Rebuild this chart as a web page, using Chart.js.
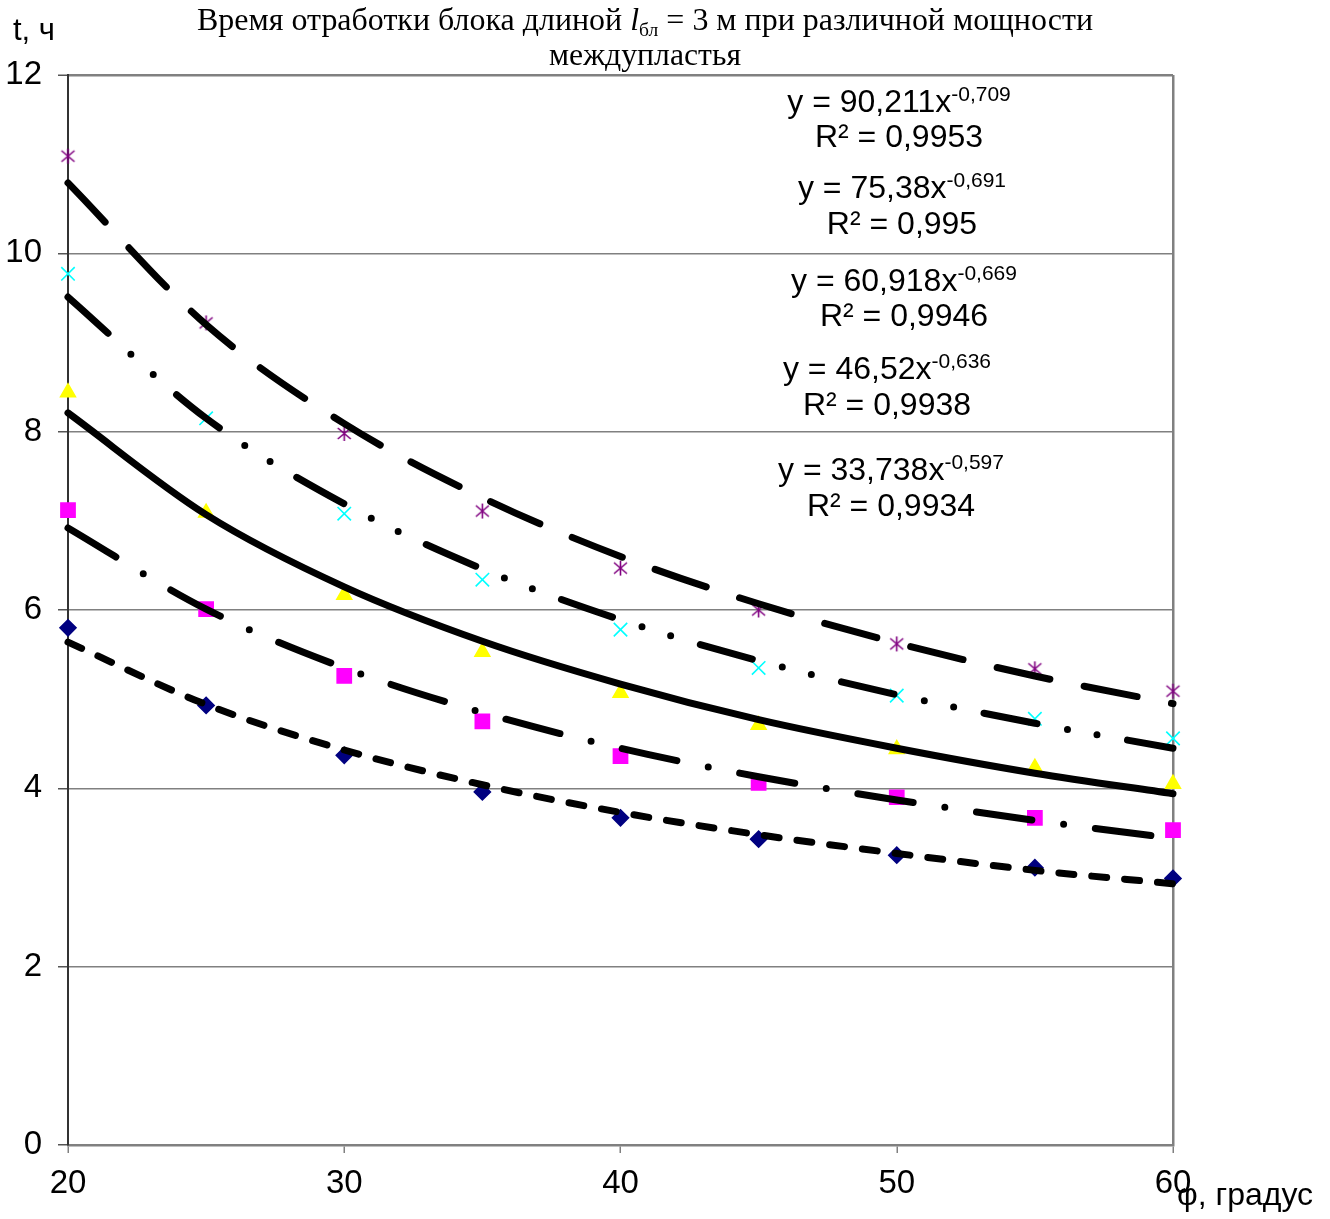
<!DOCTYPE html>
<html>
<head>
<meta charset="utf-8">
<script src="https://cdn.jsdelivr.net/npm/chart.js@4.4.1/dist/chart.umd.min.js"></script>
<style>
  html, body { margin: 0; padding: 0; background: #fff; }
</style>
</head>
<body>
<canvas id="timeChart" width="1330" height="1219"></canvas>
<script>
// angle, degrees
const angles = [20, 25, 30, 35, 40, 45, 50, 55, 60];
const xTicks = [20, 30, 40, 50, 60];
const yTicks = [0, 2, 4, 6, 8, 10, 12];

// measured times, h (one series per seam thickness)
const timeAsterisk = [11.09, 9.22, 7.98, 7.11, 6.47, 6.00, 5.62, 5.34, 5.09];
const timeCross    = [9.77, 8.15, 7.08, 6.34, 5.78, 5.35, 5.04, 4.78, 4.56];
const timeTriangle = [8.44, 7.09, 6.17, 5.53, 5.07, 4.71, 4.44, 4.23, 4.05];
const timeSquare   = [7.12, 6.01, 5.26, 4.75, 4.36, 4.06, 3.90, 3.67, 3.53];
const timeDiamond  = [5.80, 4.93, 4.37, 3.96, 3.67, 3.43, 3.25, 3.11, 2.99];

// power trend lines, values read at the same angles
const trendAsterisk = [10.79, 9.20, 8.09, 7.26, 6.60, 6.07, 5.63, 5.26, 4.95];
const trendCross    = [9.51, 8.15, 7.19, 6.46, 5.89, 5.43, 5.05, 4.73, 4.45];
const trendTriangle = [8.21, 7.07, 6.26, 5.65, 5.17, 4.77, 4.45, 4.17, 3.94];
const trendSquare   = [6.92, 6.01, 5.35, 4.85, 4.45, 4.13, 3.87, 3.64, 3.44];
const trendDiamond  = [5.64, 4.94, 4.43, 4.04, 3.73, 3.48, 3.27, 3.08, 2.93];

// trend equations
const eqMain = ['y = 90,211x', 'y = 75,38x', 'y = 60,918x', 'y = 46,52x', 'y = 33,738x'];
const eqPower = ['-0,709', '-0,691', '-0,669', '-0,636', '-0,597'];
const eqR2 = ['R² = 0,9953', 'R² = 0,995', 'R² = 0,9946', 'R² = 0,9938', 'R² = 0,9934'];

const SANS = '"Liberation Sans", Arial, sans-serif';
const SERIF = '"Liberation Serif", "Times New Roman", serif';

function pts(ys) {
    return angles.map((a, i) => ({ x: a, y: ys[i] }));
}

// excel-like asterisk marker
const asteriskMark = (() => {
    const c = document.createElement('canvas');
    c.width = 17; c.height = 17;
    const g = c.getContext('2d');
    g.strokeStyle = '#800080';
    g.lineWidth = 1.6;
    g.beginPath();
    g.moveTo(8.5, 1); g.lineTo(8.5, 16);
    g.moveTo(2, 3); g.lineTo(15, 14);
    g.moveTo(15, 3); g.lineTo(2, 14);
    g.stroke();
    return c;
})();

function trend(data, dash) {
    return {
        data: pts(data),
        showLine: true,
        borderColor: '#000',
        borderWidth: 7,
        borderDash: dash,
        borderCapStyle: 'round',
        borderJoinStyle: 'round',
        cubicInterpolationMode: 'monotone',
        pointRadius: 0,
        fill: false,
        clip: false,
        order: 0
    };
}

function marks(data, style, color, radius) {
    return {
        data: pts(data),
        showLine: false,
        pointStyle: style,
        pointRadius: radius,
        pointBackgroundColor: color,
        pointBorderColor: color,
        pointBorderWidth: 1.6,
        clip: false,
        order: 1
    };
}

// draws a run of text pieces centred on cx
function drawRuns(ctx, runs, cx, base, fitWidth) {
    let total = 0;
    runs.forEach(r => { ctx.font = r.font; r.w = ctx.measureText(r.text).width; total += r.w; });
    const k = fitWidth ? fitWidth / total : 1;
    ctx.save();
    ctx.translate(cx - total * k / 2, base);
    ctx.scale(k, 1);
    let x = 0;
    runs.forEach(r => {
        ctx.font = r.font;
        ctx.fillText(r.text, x, -(r.rise || 0));
        x += r.w;
    });
    ctx.restore();
}

const textPlugin = {
    id: 'chartText',
    afterDraw(chart) {
        const ctx = chart.ctx;
        ctx.save();
        ctx.fillStyle = '#000';
        ctx.textBaseline = 'alphabetic';
        ctx.textAlign = 'left';

        // title
        const tf = '31px ' + SERIF;
        drawRuns(ctx, [
            { text: 'Время отработки блока длиной ', font: tf },
            { text: 'l', font: 'italic ' + tf },
            { text: 'бл', font: '19px ' + SERIF, rise: -6 },
            { text: ' = 3 м при различной мощности', font: tf }
        ], 645, 30, 896);
        drawRuns(ctx, [{ text: 'междупластья', font: tf }], 645, 65, 192);

        // axis names
        ctx.font = '31px ' + SANS;
        ctx.fillText('t, ч', 13, 40);
        ctx.font = '32px ' + SANS;
        ctx.fillText('φ, градус', 1177, 1205);

        // equations
        const spots = [
            { cx: 899, b1: 112, b2: 147 },
            { cx: 902, b1: 198, b2: 234 },
            { cx: 904, b1: 291, b2: 326 },
            { cx: 887, b1: 379, b2: 415 },
            { cx: 891, b1: 480, b2: 516 }
        ];
        const ef = '32px ' + SANS;
        spots.forEach((s, i) => {
            drawRuns(ctx, [
                { text: eqMain[i], font: ef },
                { text: eqPower[i], font: '21px ' + SANS, rise: 11 }
            ], s.cx, s.b1);
            drawRuns(ctx, [{ text: eqR2[i], font: ef }], s.cx, s.b2);
        });
        ctx.restore();
    }
};

const canvas = document.getElementById('timeChart');
new Chart(canvas.getContext('2d'), {
    type: 'scatter',
    data: {
        datasets: [
            trend(trendAsterisk, [54, 35]),
            trend(trendCross, [54, 31, 0, 30, 0, 31]),
            trend(trendTriangle, []),
            trend(trendSquare, [56, 32, 0, 32]),
            trend(trendDiamond, [15, 18]),
            marks(timeAsterisk, asteriskMark, '#800080', 8),
            marks(timeCross, 'crossRot', '#00ffff', 9.5),
            marks(timeTriangle, 'triangle', '#ffff00', 8.5),
            marks(timeSquare, 'rect', '#ff00ff', 10),
            marks(timeDiamond, 'rectRot', '#000080', 8)
        ]
    },
    options: {
        responsive: false,
        animation: false,
        devicePixelRatio: 1,
        layout: { padding: { top: 75, right: 157, bottom: 0, left: 0 } },
        plugins: {
            legend: { display: false },
            tooltip: { enabled: false },
            title: { display: false }
        },
        scales: {
            x: {
                type: 'linear',
                min: 20,
                max: 60,
                afterBuildTicks: s => { s.ticks = xTicks.map(v => ({ value: v })); },
                afterFit: s => { s.height = 74; },
                grid: {
                    color: c => c.tick && c.tick.value === 60 ? '#808080' : 'rgba(0,0,0,0)',
                    lineWidth: 2.5,
                    tickColor: '#808080',
                    tickLength: 8,
                    tickWidth: 1.5
                },
                border: { color: '#808080', width: 2.5 },
                ticks: {
                    color: '#000',
                    font: { family: SANS, size: 33 },
                    padding: 11,
                    maxRotation: 0
                }
            },
            y: {
                min: 0,
                max: 12,
                afterBuildTicks: s => { s.ticks = yTicks.map(v => ({ value: v })); },
                afterFit: s => { s.width = 68; },
                grid: {
                    color: c => c.tick && c.tick.value === 0 ? 'rgba(0,0,0,0)' : '#808080',
                    lineWidth: c => c.tick && c.tick.value === 12 ? 2.5 : 1.5,
                    tickColor: '#555',
                    tickLength: 10,
                    tickWidth: 1.5
                },
                border: { color: '#333', width: 2 },
                ticks: {
                    color: '#000',
                    font: { family: SANS, size: 33 },
                    padding: 16
                }
            }
        }
    },
    plugins: [textPlugin]
});
</script>
</body>
</html>
